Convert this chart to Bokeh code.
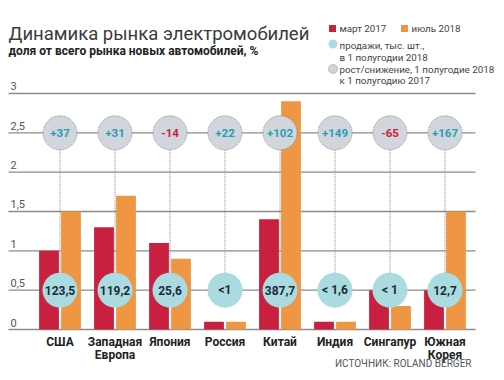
from bokeh.plotting import figure
from bokeh.models import Range1d
from bokeh.core.properties import value
from bokeh.embed import file_html
from bokeh.resources import INLINE

# ---- data ----
categories = ["США", "Западная\nЕвропа", "Япония", "Россия", "Китай", "Индия", "Сингапур", "Южная\nКорея"]
march_2017 = [1.0, 1.3, 1.1, 0.1, 1.4, 0.1, 0.5, 0.5]
july_2018 = [1.5, 1.7, 0.9, 0.1, 2.9, 0.1, 0.3, 1.5]
sales_h1_2018 = ["123,5", "119,2", "25,6", "<1", "387,7", "< 1,6", "< 1", "12,7"]
growth = ["+37", "+31", "-14", "+22", "+102", "+149", "-65", "+167"]
y_ticks = [0, 0.5, 1, 1.5, 2, 2.5, 3]
y_tick_labels = ["0", "0,5", "1", "1,5", "2", "2,5", "3"]
growth_level = 2.5
sales_level = 0.5

# ---- layout (canvas pixel helpers) ----
W, H = 496, 372
PXC = 55.0      # px per category
PYU = 78.67     # px per unit
X0 = 59.5       # canvas x of first category centre
Y0 = 329.0      # canvas y (from top) of value 0

def dx(px):
    return (px - X0) / PXC

def dy(py):
    return (Y0 - py) / PYU

FONT = value("Roboto")
RED = "#c8203e"
ORANGE = "#ef9645"
TEAL_FILL = "#a9dbe0"
GRAY_FILL = "#d1d5dc"
GRAY_LINE = "#8a8f99"
POS_TXT = "#2b9cb8"

p = figure(width=W, height=H, output_backend="svg", toolbar_location=None,
           x_range=Range1d(-X0 / PXC, (W - X0) / PXC),
           y_range=Range1d(-(H - Y0) / PYU, Y0 / PYU),
           x_axis_location=None, y_axis_location=None,
           min_border=0, outline_line_color=None)
p.xgrid.visible = False
p.ygrid.visible = False
p.background_fill_color = "white"
p.border_fill_color = "white"

n = len(categories)
idx = list(range(n))

# grid lines
p.segment(x0=[dx(8)] * len(y_ticks), x1=[dx(475)] * len(y_ticks), y0=y_ticks, y1=y_ticks,
          line_color="#8c8c8c", line_width=1.4)
p.text(x=[dx(10)] * len(y_ticks), y=[t + 3 / PYU for t in y_ticks], text=y_tick_labels,
       text_font=FONT, text_font_size="11px", text_color="#555555",
       text_align="left", text_baseline="bottom")

# dotted connectors
r_data = 17 / PYU
p.segment(x0=idx, x1=idx, y0=[growth_level - r_data] * n, y1=[sales_level + r_data] * n,
          line_color="#8a8a8a", line_width=1, line_dash="1 1")

# bars
p.vbar(x=[i - 0.2 for i in idx], top=march_2017, bottom=0, width=0.36,
       fill_color=RED, line_color=None)
p.vbar(x=[i + 0.2 for i in idx], top=july_2018, bottom=0, width=0.36,
       fill_color=ORANGE, line_color=None)

# growth circles
p.scatter(x=idx, y=[growth_level] * n, size=34, marker="circle",
          fill_color=GRAY_FILL, line_color=GRAY_LINE, line_width=1, line_dash="1 1")
p.text(x=idx, y=[growth_level] * n, text=growth,
       text_color=[RED if g.startswith("-") else POS_TXT for g in growth],
       text_font=FONT, text_font_size="11.5px", text_font_style="bold",
       text_align="center", text_baseline="middle")

# sales circles
p.scatter(x=idx, y=[sales_level] * n, size=35, marker="circle",
          fill_color=TEAL_FILL, line_color=None)
p.text(x=idx, y=[sales_level] * n, text=sales_h1_2018, text_color="#1f2b38",
       text_font=FONT, text_font_size="12px", text_font_style="bold",
       text_align="center", text_baseline="middle")

# category labels
p.text(x=idx, y=[dy(334)] * n, text=categories, text_color="#222222",
       text_font=FONT, text_font_size="12px", text_font_style="bold",
       text_align="center", text_baseline="top", text_line_height=0.95)

# title & subtitle
p.text(x=[dx(8)], y=[dy(33)], text=["Динамика рынка электромобилей"],
       text_font=FONT, text_font_size="18.5px", text_color="#3a3a3a",
       text_align="left", text_baseline="alphabetic")
p.text(x=[dx(8)], y=[dy(50)], text=["доля от всего рынка новых автомобилей, %"],
       text_font=FONT, text_font_size="12px", text_font_style="bold", text_color="#222222",
       text_align="left", text_baseline="alphabetic")

# legend
LEG = dict(text_font=FONT, text_font_size="9.8px", text_color="#444444",
           text_align="left", text_baseline="middle")
p.scatter(x=[dx(332)], y=[dy(28)], size=7, marker="square", fill_color=RED, line_color=None)
p.text(x=[dx(339)], y=[dy(28)], text=["март 2017"], **LEG)
p.scatter(x=[dx(404)], y=[dy(28)], size=7, marker="square", fill_color=ORANGE, line_color=None)
p.text(x=[dx(411)], y=[dy(28)], text=["июль 2018"], **LEG)
p.scatter(x=[dx(332.5)], y=[dy(43.5)], size=9, marker="circle", fill_color=TEAL_FILL, line_color=None)
p.text(x=[dx(339)], y=[dy(45)], text=["продажи, тыс. шт.,"], **LEG)
p.text(x=[dx(339)], y=[dy(56.5)], text=["в 1 полугодии 2018"], **LEG)
p.scatter(x=[dx(332.5)], y=[dy(68.5)], size=9, marker="circle", fill_color=GRAY_FILL,
          line_color=GRAY_LINE, line_width=1, line_dash="1 1")
p.text(x=[dx(339)], y=[dy(68.5)], text=["рост/снижение, 1 полугодие 2018"], **LEG)
p.text(x=[dx(339)], y=[dy(79.5)], text=["к 1 полугодию 2017"], **LEG)

# source
p.text(x=[dx(471)], y=[dy(363)], text=["ИСТОЧНИК: ROLAND BERGER"],
       text_font=FONT, text_font_size="10px", text_color="#555555",
       text_align="right", text_baseline="middle")

open("out.html", "w").write(file_html(p, INLINE))
